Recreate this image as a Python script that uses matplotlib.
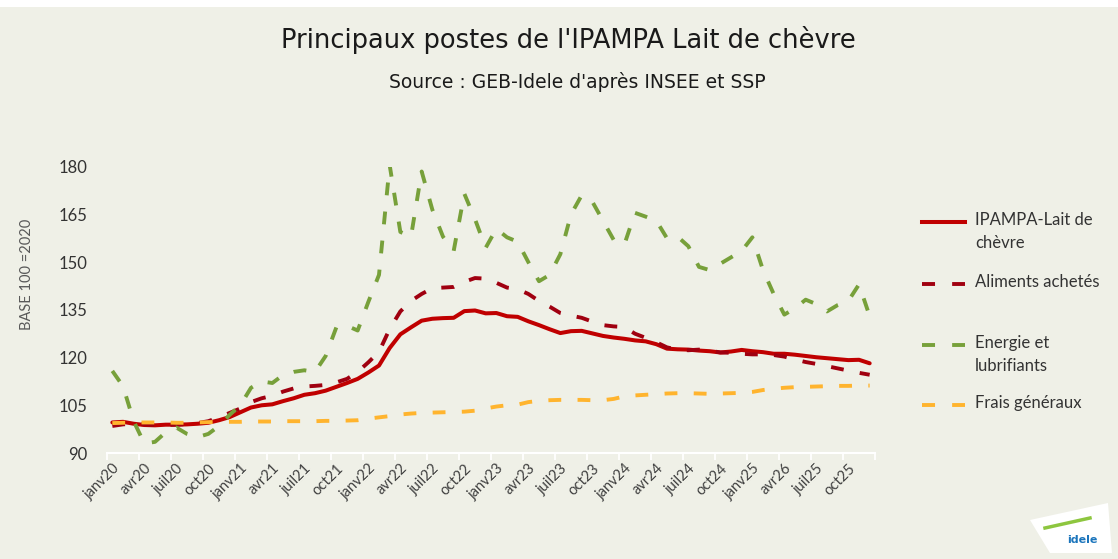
import numpy as np
import matplotlib.pyplot as plt
from matplotlib.lines import Line2D
from matplotlib.patches import Polygon, Rectangle

# Indices mensuels janv20 -> déc25 (base 100 = 2020)
ipampa = [99.6, 99.8, 99.2, 98.8, 98.7, 98.9, 98.9, 99.0, 99.2, 99.5, 100.3, 101.3,
          102.8, 104.3, 105.0, 105.3, 106.3, 107.2, 108.3, 108.8, 109.6, 110.8, 112.0, 113.3,
          115.3, 117.5, 123.0, 127.3, 129.5, 131.6, 132.2, 132.4, 132.5, 134.6, 134.8, 133.9,
          134.0, 133.0, 132.8, 131.4, 130.2, 128.9, 127.7, 128.3, 128.4, 127.6, 126.8, 126.3,
          125.9, 125.4, 125.1, 124.2, 122.8, 122.6, 122.5, 122.2, 122.0, 121.6, 121.9, 122.4,
          122.0, 121.7, 121.2, 121.2, 120.9, 120.5, 120.1, 119.8, 119.5, 119.2, 119.3, 118.2]
aliments = [98.5, 99.0, 99.2, 99.0, 98.8, 98.8, 98.9, 99.1, 99.4, 100.0, 101.2, 102.6,
            104.0, 106.0, 107.2, 108.0, 109.3, 110.3, 110.9, 111.1, 111.4, 112.2, 113.3, 115.5,
            118.5, 121.8, 129.0, 134.5, 137.8, 140.0, 141.8, 142.0, 142.2, 143.8, 145.0, 144.8,
            143.5, 142.0, 141.5, 140.0, 137.8, 136.0, 134.0, 133.2, 132.5, 131.3, 130.2, 129.8,
            129.6, 127.5, 126.2, 124.8, 123.2, 122.5, 122.3, 122.5, 122.2, 121.6, 121.5, 121.2,
            121.0, 121.0, 120.8, 120.3, 119.4, 118.6, 118.0, 117.3, 116.6, 115.9, 115.2, 114.6]
energie = [115.8, 111.0, 100.0, 93.0, 93.5, 96.5, 98.0, 96.0, 95.0, 96.0, 98.5, 102.0,
           105.0, 110.5, 112.5, 112.0, 114.5, 115.5, 116.0, 115.5, 120.5, 129.5, 130.0, 128.5,
           137.5, 146.0, 180.5, 159.5, 158.0, 178.5, 166.5, 158.0, 153.5, 171.5, 163.5, 154.5,
           160.5, 157.8, 156.4, 150.0, 144.0, 146.0, 152.5, 165.0, 171.0, 169.0, 163.0, 157.0,
           155.5, 165.5, 164.3, 163.0, 157.5, 158.0, 155.0, 148.5, 147.5, 149.5, 151.5, 153.5,
           157.8, 147.5, 140.0, 133.5, 135.5, 138.2, 136.8, 134.5, 136.5, 137.8, 143.0, 133.0]
frais = [99.4, 99.5, 99.6, 99.6, 99.6, 99.6, 99.5, 99.5, 99.6, 99.7, 99.8, 99.8,
         99.8, 99.9, 99.9, 99.9, 100.0, 100.0, 100.0, 100.0, 100.1, 100.1, 100.2, 100.3,
         100.8, 101.2, 101.6, 102.1, 102.4, 102.6, 102.7, 102.8, 102.9, 103.0, 103.3, 104.0,
         104.6, 105.0, 105.2, 106.0, 106.4, 106.6, 106.7, 106.7, 106.7, 106.6, 106.6, 107.0,
         107.8, 108.1, 108.3, 108.5, 108.7, 108.8, 108.8, 108.7, 108.6, 108.7, 108.8, 108.9,
         109.2, 109.8, 110.2, 110.5, 110.7, 110.8, 110.9, 111.0, 111.1, 111.1, 111.2, 111.2]

tick_labels = ['janv20', 'avr20', 'juil20', 'oct20', 'janv21', 'avr21', 'juil21', 'oct21',
               'janv22', 'avr22', 'juil22', 'oct22', 'janv23', 'avr23', 'juil23', 'oct23',
               'janv24', 'avr24', 'juil24', 'oct24', 'janv25', 'avr26', 'juil25', 'oct25']

series_names = ['IPAMPA-Lait de\nchèvre', 'Aliments achetés', 'Energie et\nlubrifiants', 'Frais généraux']
colors = ['#C00000', '#A00010', '#77A03A', '#FFB42E']

bg = '#EFF0E7'
W, H = 1118, 559
fig = plt.figure(figsize=(W / 100, H / 100), dpi=100, facecolor=bg)
fig.patches.append(Rectangle((0, 1 - 7 / H), 1, 7 / H, transform=fig.transFigure,
                             facecolor='white', edgecolor='none', zorder=0))

ax = fig.add_axes([107 / W, 1 - 453 / H, 768 / W, (453 - 166.7) / H])
ax.set_facecolor(bg)

x = np.arange(len(ipampa))
lw = 2.8
dash = (3.3, 4.2)
ax.plot(x, ipampa, color=colors[0], lw=2.9, solid_capstyle='round', zorder=2)
ax.plot(x, aliments, color=colors[1], lw=lw, dashes=dash, zorder=3)
ax.plot(x, energie, color=colors[2], lw=lw, dashes=dash, zorder=4)
ax.plot(x, frais, color=colors[3], lw=lw, dashes=dash, zorder=5)

ax.set_xlim(-0.5, len(x) - 0.5)
ax.set_ylim(90, 180)
ax.set_yticks(np.arange(90, 181, 15))
ax.set_xticks(np.arange(0, len(x), 3))
ax.set_xticklabels(tick_labels, rotation=45, ha='right', rotation_mode='anchor',
                   fontsize=10.5, color='#404040', family=['Lato', 'DejaVu Sans'])
ax.set_xticks(np.arange(-0.5, len(x), 3), minor=True)
ax.tick_params(axis='x', which='major', length=0, pad=6)
ax.tick_params(axis='x', which='minor', length=5, color='white', width=1.3)
ax.tick_params(axis='y', length=0, pad=14, labelsize=12, labelcolor='#333333')
for lab in ax.get_yticklabels():
    lab.set_family(['Lato', 'DejaVu Sans'])

for s in ['top', 'right', 'left']:
    ax.spines[s].set_visible(False)
ax.spines['bottom'].set_color('white')
ax.spines['bottom'].set_linewidth(1.5)

fig.text(27 / W, 1 - 274 / H, 'BASE 100 =2020', rotation=90, ha='center', va='center',
         fontsize=10.5, color='#595959', family=['Lato', 'DejaVu Sans'])

fig.text(568 / W, 1 - 40 / H, "Principaux postes de l'IPAMPA Lait de chèvre", ha='center',
         va='center', fontsize=18.5, color='#1A1A1A', family=['DejaVu Sans'])
fig.text(577 / W, 1 - 82 / H, "Source : GEB-Idele d'après INSEE et SSP", ha='center',
         va='center', fontsize=13.5, color='#1A1A1A', family=['DejaVu Sans'])

# legende
leg_y = [222, 284, 345, 405]
for i, (name, c) in enumerate(zip(series_names, colors)):
    yy = 1 - leg_y[i] / H
    if i == 0:
        ln = Line2D([922 / W, 965 / W], [yy, yy], color=c, lw=2.9, transform=fig.transFigure)
    else:
        ln = Line2D([922 / W, 965 / W], [yy, yy], color=c, lw=lw, dashes=(3.35, 4.4),
                    transform=fig.transFigure)
    fig.add_artist(ln)
    fig.text(975 / W, yy + 10 / H, name, ha='left', va='top', fontsize=12, color='#333333',
             linespacing=1.55, family=['Lato', 'DejaVu Sans'])

# logo idele
logo = Polygon([[1030 / W, 1 - 520 / H], [1108 / W, 1 - 503 / H], [1112 / W, 1 - 553 / H],
                [1050 / W, 1 - 553 / H]], closed=True, facecolor='white', edgecolor='none',
               transform=fig.transFigure, joinstyle='round')
fig.patches.append(logo)
fig.add_artist(Line2D([1045 / W, 1090 / W], [1 - 528 / H, 1 - 518 / H], color='#8DC63F', lw=2.5,
                      transform=fig.transFigure))
fig.text(1097 / W, 1 - 540 / H, 'idele', ha='right', va='center', fontsize=8,
         fontweight='bold', color='#1B75BC')

fig.savefig('out.png', dpi=100, facecolor=bg)
